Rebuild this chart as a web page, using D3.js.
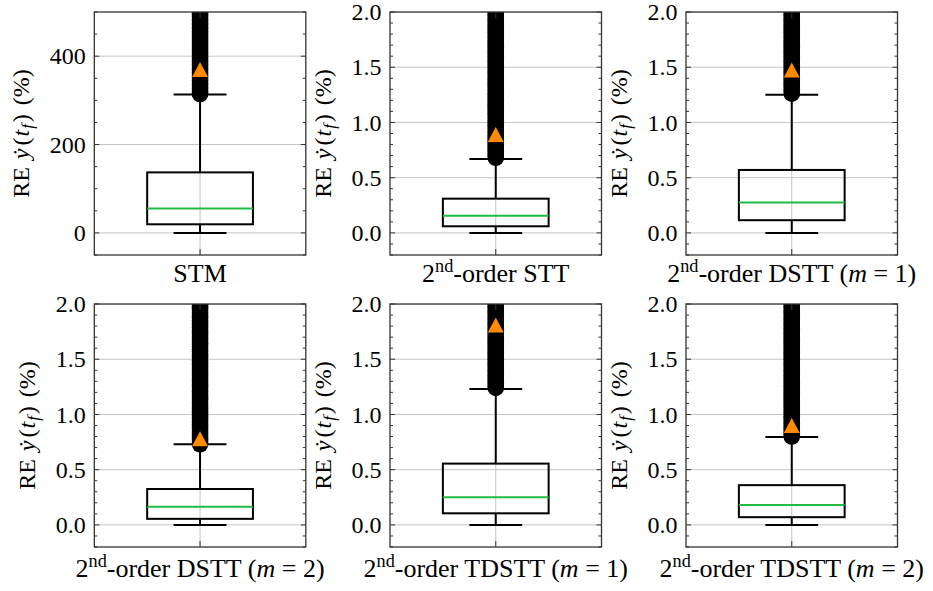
<!DOCTYPE html>
<html><head><meta charset="utf-8">
<script src="https://cdn.jsdelivr.net/npm/d3@7"></script>
<style>
body{margin:0;background:#fff} svg{display:block}
html body svg#c text, html body svg#c tspan { font-family: "Liberation Serif", "Times New Roman", serif !important; }
</style>
</head><body><svg id="c" width="933" height="591"></svg>
<script>
// ---------------- data ----------------
const categories = ["STM", "2nd-order STT", "2nd-order DSTT (m = 1)",
  "2nd-order DSTT (m = 2)", "2nd-order TDSTT (m = 1)", "2nd-order TDSTT (m = 2)"];
const q1 = [19.5, 0.06, 0.115, 0.055, 0.105, 0.07];
const medians = [55, 0.155, 0.275, 0.165, 0.25, 0.18];
const q3 = [137, 0.31, 0.57, 0.325, 0.555, 0.36];
const whiskerLow = [0, 0, 0, 0, 0, 0];
const whiskerHigh = [313, 0.67, 1.25, 0.73, 1.23, 0.795];
const means = [370, 0.89, 1.475, 0.78, 1.81, 0.9];
const yDomains = [[-50, 500], [-0.2, 2], [-0.2, 2], [-0.2, 2], [-0.2, 2], [-0.2, 2]];
const yTicks = [[0, 200, 400], [0, 0.5, 1, 1.5, 2], [0, 0.5, 1, 1.5, 2],
  [0, 0.5, 1, 1.5, 2], [0, 0.5, 1, 1.5, 2], [0, 0.5, 1, 1.5, 2]];
const yTickLabels = [["0", "200", "400"], ["0.0", "0.5", "1.0", "1.5", "2.0"],
  ["0.0", "0.5", "1.0", "1.5", "2.0"], ["0.0", "0.5", "1.0", "1.5", "2.0"],
  ["0.0", "0.5", "1.0", "1.5", "2.0"], ["0.0", "0.5", "1.0", "1.5", "2.0"]];
const minorSmall = [-0.2, -0.1, 0.1, 0.2, 0.3, 0.4, 0.6, 0.7, 0.8, 0.9, 1.1, 1.2, 1.3, 1.4, 1.6, 1.7, 1.8, 1.9];
const yMinorTicks = [[-50, 50, 100, 150, 250, 300, 350, 450, 500],
  minorSmall, minorSmall, minorSmall, minorSmall, minorSmall];
const fliers = [
  [314, 318, 322, 327, 331, 336, 340, 345, 349, 354, 358, 363, 367, 372, 376, 381, 385, 390, 394, 399, 403, 408, 412, 417, 421, 426, 430, 435, 439, 444, 448, 453, 457, 462, 466, 471, 475, 480, 484, 489, 493, 498, 503, 510, 520],
  [0.68, 0.70, 0.72, 0.74, 0.76, 0.78, 0.80, 0.82, 0.84, 0.86, 0.88, 0.90, 0.92, 0.94, 0.96, 0.98, 1.00, 1.02, 1.04, 1.06, 1.08, 1.10, 1.12, 1.14, 1.16, 1.18, 1.20, 1.22, 1.24, 1.26, 1.28, 1.30, 1.32, 1.34, 1.36, 1.38, 1.40, 1.42, 1.44, 1.46, 1.48, 1.50, 1.52, 1.54, 1.56, 1.58, 1.60, 1.62, 1.64, 1.66, 1.68, 1.70, 1.72, 1.74, 1.76, 1.78, 1.80, 1.82, 1.84, 1.86, 1.88, 1.90, 1.92, 1.94, 1.96, 1.98, 2.01, 2.05],
  [1.26, 1.28, 1.30, 1.32, 1.34, 1.36, 1.38, 1.40, 1.42, 1.44, 1.46, 1.48, 1.50, 1.52, 1.54, 1.56, 1.58, 1.60, 1.62, 1.64, 1.66, 1.68, 1.70, 1.72, 1.74, 1.76, 1.78, 1.80, 1.82, 1.84, 1.86, 1.88, 1.90, 1.92, 1.94, 1.96, 1.98, 2.01, 2.05],
  [0.73, 0.75, 0.77, 0.79, 0.81, 0.83, 0.85, 0.87, 0.89, 0.91, 0.93, 0.95, 0.97, 0.99, 1.01, 1.03, 1.05, 1.07, 1.09, 1.11, 1.13, 1.15, 1.17, 1.19, 1.21, 1.23, 1.25, 1.27, 1.29, 1.31, 1.33, 1.35, 1.37, 1.39, 1.41, 1.43, 1.45, 1.47, 1.49, 1.51, 1.53, 1.55, 1.57, 1.59, 1.61, 1.63, 1.65, 1.67, 1.69, 1.71, 1.73, 1.75, 1.77, 1.79, 1.81, 1.83, 1.85, 1.87, 1.89, 1.91, 1.93, 1.95, 1.97, 1.99, 2.02, 2.05],
  [1.24, 1.26, 1.28, 1.30, 1.32, 1.34, 1.36, 1.38, 1.40, 1.42, 1.44, 1.46, 1.48, 1.50, 1.52, 1.54, 1.56, 1.58, 1.60, 1.62, 1.64, 1.66, 1.68, 1.70, 1.72, 1.74, 1.76, 1.78, 1.80, 1.82, 1.84, 1.86, 1.88, 1.90, 1.92, 1.94, 1.96, 1.98, 2.01, 2.05],
  [0.80, 0.82, 0.84, 0.86, 0.88, 0.90, 0.92, 0.94, 0.96, 0.98, 1.00, 1.02, 1.04, 1.06, 1.08, 1.10, 1.12, 1.14, 1.16, 1.18, 1.20, 1.22, 1.24, 1.26, 1.28, 1.30, 1.32, 1.34, 1.36, 1.38, 1.40, 1.42, 1.44, 1.46, 1.48, 1.50, 1.52, 1.54, 1.56, 1.58, 1.60, 1.62, 1.64, 1.66, 1.68, 1.70, 1.72, 1.74, 1.76, 1.78, 1.80, 1.82, 1.84, 1.86, 1.88, 1.90, 1.92, 1.94, 1.96, 1.98, 2.01, 2.05]];

// ---------------- layout ----------------
const colX = [94.3, 390, 686];
const rowY = [12, 304];
const PW = 211.5, PH = 243;
const labelBaseline = [281.5, 577];
const TICKFONT = 24, XFONT = 26, YFONT = 24;
const GREEN = "#1fbb45", ORANGE = "#ff8c00", GRID = "#c4c4c4", FRAME = "#333";

const svg = d3.select("#c");

function txt(sel, fs) {
  return sel.append("text").attr("font-family", "Liberation Serif").attr("font-size", fs).attr("fill", "#000");
}

function richLabel(textSel, s, fs) {
  const m = s.match(/^(\d)(nd)(-order .*?)(?: \(m = (\d)\))?$/);
  if (!m) { textSel.text(s); return; }
  textSel.append("tspan").text(m[1]);
  textSel.append("tspan").attr("dy", -fs * 0.38).attr("font-size", fs * 0.7).text(m[2]);
  textSel.append("tspan").attr("dy", fs * 0.38).text(m[3]);
  if (m[4]) {
    textSel.append("tspan").text(" (");
    textSel.append("tspan").attr("font-style", "italic").text("m");
    textSel.append("tspan").text(" = " + m[4] + ")");
  }
}

categories.forEach((cat, i) => {
  const r = Math.floor(i / 3), c = i % 3;
  const x0 = colX[c], y0 = rowY[r];
  const g = svg.append("g").attr("transform", `translate(${x0},${y0})`);
  const x = d3.scaleLinear().domain([0.5, 1.5]).range([0, PW]);
  const y = d3.scaleLinear().domain(yDomains[i]).range([PH, 0]);
  const cid = "clip" + i;
  g.append("clipPath").attr("id", cid).append("rect").attr("width", PW).attr("height", PH);
  const plot = g.append("g").attr("clip-path", `url(#${cid})`);

  plot.selectAll(".hg").data(yTicks[i]).join("line")
    .attr("x1", 0).attr("x2", PW).attr("y1", d => y(d)).attr("y2", d => y(d))
    .attr("stroke", GRID).attr("stroke-width", 1);
  plot.append("line").attr("x1", x(1)).attr("x2", x(1)).attr("y1", 0).attr("y2", PH)
    .attr("stroke", GRID).attr("stroke-width", 1);

  const lw = 2;
  plot.append("line").attr("x1", x(1)).attr("x2", x(1)).attr("y1", y(q1[i])).attr("y2", y(whiskerLow[i]))
    .attr("stroke", "#000").attr("stroke-width", lw);
  plot.append("line").attr("x1", x(1)).attr("x2", x(1)).attr("y1", y(q3[i])).attr("y2", y(whiskerHigh[i]))
    .attr("stroke", "#000").attr("stroke-width", lw);
  [whiskerLow[i], whiskerHigh[i]].forEach(v => {
    plot.append("line").attr("x1", x(0.875)).attr("x2", x(1.125)).attr("y1", y(v)).attr("y2", y(v))
      .attr("stroke", "#000").attr("stroke-width", lw);
  });
  plot.append("rect").attr("x", x(0.75)).attr("width", x(1.25) - x(0.75))
    .attr("y", y(q3[i])).attr("height", y(q1[i]) - y(q3[i]))
    .attr("fill", "none").attr("stroke", "#000").attr("stroke-width", lw);
  plot.append("line").attr("x1", x(0.75)).attr("x2", x(1.25)).attr("y1", y(medians[i])).attr("y2", y(medians[i]))
    .attr("stroke", GREEN).attr("stroke-width", lw);
  plot.selectAll(".fl").data(fliers[i]).join("circle")
    .attr("cx", x(1)).attr("cy", d => y(d)).attr("r", 8.3).attr("fill", "#000");
  const tw = 16, th = 15;
  plot.append("path")
    .attr("d", `M0,${-th / 2}L${tw / 2},${th / 2}L${-tw / 2},${th / 2}Z`)
    .attr("transform", `translate(${x(1)},${y(means[i])})`)
    .attr("fill", ORANGE);

  g.append("rect").attr("width", PW).attr("height", PH).attr("fill", "none")
    .attr("stroke", FRAME).attr("stroke-width", 1.3);
  const tk = g.append("g").attr("stroke", FRAME).attr("stroke-width", 1);
  yTicks[i].forEach(v => {
    tk.append("line").attr("x1", 0).attr("x2", 5).attr("y1", y(v)).attr("y2", y(v));
    tk.append("line").attr("x1", PW).attr("x2", PW - 5).attr("y1", y(v)).attr("y2", y(v));
  });
  yMinorTicks[i].forEach(v => {
    tk.append("line").attr("x1", 0).attr("x2", 3).attr("y1", y(v)).attr("y2", y(v));
    tk.append("line").attr("x1", PW).attr("x2", PW - 3).attr("y1", y(v)).attr("y2", y(v));
  });
  tk.append("line").attr("x1", x(1)).attr("x2", x(1)).attr("y1", PH).attr("y2", PH - 6);
  tk.append("line").attr("x1", x(1)).attr("x2", x(1)).attr("y1", 0).attr("y2", 6);

  const tl = g.append("g");
  yTicks[i].forEach((v, k) => {
    txt(tl, TICKFONT).attr("x", -8.5).attr("y", y(v)).attr("dy", "0.34em")
      .attr("text-anchor", "end").text(yTickLabels[i][k]);
  });
  const bb = tl.node().getBBox();

  const xt = txt(svg, XFONT).attr("x", x0 + x(1)).attr("y", labelBaseline[r])
    .attr("text-anchor", "middle");
  richLabel(xt, cat, XFONT);

  const lx = x0 + bb.x - 21, ly = y0 + PH / 2;
  const yt = txt(svg, YFONT).attr("transform", `translate(${lx},${ly}) rotate(-90)`)
    .attr("text-anchor", "middle");
  yt.append("tspan").text("RE ");
  yt.append("tspan").attr("dx", 2).attr("font-style", "italic").text("y\u0307");
  yt.append("tspan").attr("dx", 3).text("(");
  yt.append("tspan").attr("dx", 1).attr("font-style", "italic").text("t");
  yt.append("tspan").attr("dx", 1).attr("font-style", "italic").attr("font-size", YFONT * 0.7).attr("dy", 4).text("f");
  yt.append("tspan").attr("dx", 2).attr("dy", -4).text(")");
  yt.append("tspan").attr("dx", 3).text(" (%)");
});
</script>
</body></html>
